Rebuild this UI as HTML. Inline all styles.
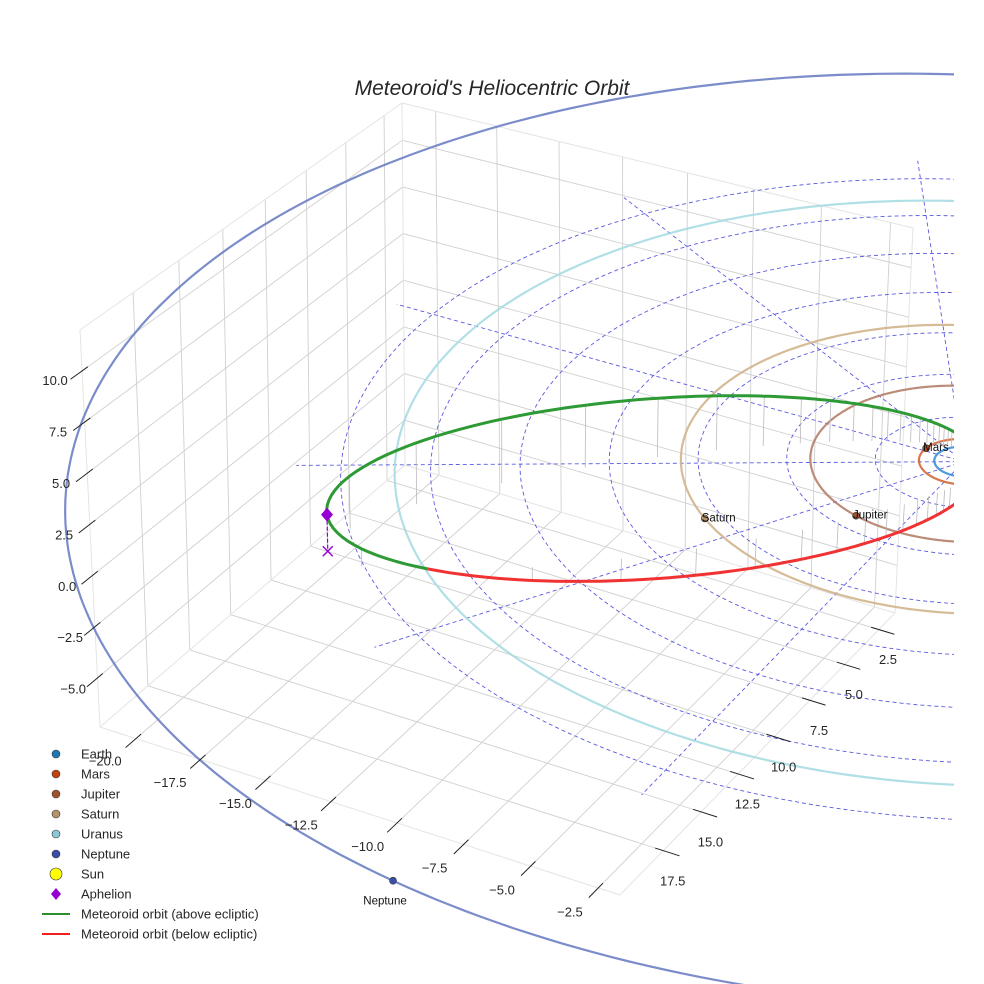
<!DOCTYPE html>
<html><head><meta charset="utf-8">
<style>
html,body{margin:0;padding:0;background:#fff;}
svg{display:block;font-family:"Liberation Sans",sans-serif;}
</style></head>
<body>
<svg id="chart" width="984" height="984" viewBox="0 0 984 984" xmlns="http://www.w3.org/2000/svg">
<defs><clipPath id="clip"><rect x="0" y="0" width="954" height="984"/></clipPath></defs>
<g id="panes"></g>
<g id="scene" clip-path="url(#clip)"></g>
<text x="492" y="95" text-anchor="middle" font-size="21" font-style="italic" fill="#262626">Meteoroid's Heliocentric Orbit</text>
<g id="ticks"></g>
<g id="legend"></g>
</svg>
<script>
// ---- data ----
const xTicks = [-20, -17.5, -15, -12.5, -10, -7.5, -5, -2.5];
const yTicks = [2.5, 5, 7.5, 10, 12.5, 15, 17.5];
const zTicks = [-5, -2.5, 0, 2.5, 5, 7.5, 10];
const xTickLabels = ["−20.0","−17.5","−15.0","−12.5","−10.0","−7.5","−5.0","−2.5"];
const yTickLabels = ["2.5","5.0","7.5","10.0","12.5","15.0","17.5"];
const zTickLabels = ["−5.0","−2.5","0.0","2.5","5.0","7.5","10.0"];
const planetNames = ["Earth","Mars","Jupiter","Saturn","Uranus","Neptune"];
const planetRadii = [1.0, 1.52, 5.2, 9.58, 19.2, 30.07];
const planetAnglesDeg = [20, 187, 108, 128, 60, 98];
const planetLabelShown = [false, true, true, true, false, true];
const ringRadii = [3, 6, 9, 12, 15, 18, 21];
const spokeAnglesDeg = [0, 30, 60, 90, 120, 150, 180, 210, 240, 270, 300, 330];
const meteorElements = [11.3, 0.945, 36, 129, 188]; // a, e, i, Omega, omega
const axisLimits = [-21.4, -1.7, 1.3, 20.3, -7.4, 12.0];

// ---- projection ----
const [x0,x1,y0,y1,z0,z1] = axisLimits;
function solve(A,b){const n=b.length;for(let i=0;i<n;i++){let m=i;for(let r=i+1;r<n;r++)if(Math.abs(A[r][i])>Math.abs(A[m][i]))m=r;[A[i],A[m]]=[A[m],A[i]];[b[i],b[m]]=[b[m],b[i]];for(let r=i+1;r<n;r++){const f=A[r][i]/A[i][i];for(let c=i;c<n;c++)A[r][c]-=f*A[i][c];b[r]-=f*b[i];}}const x=new Array(n);for(let i=n-1;i>=0;i--){let s=b[i];for(let c=i+1;c<n;c++)s-=A[i][c]*x[c];x[i]=s/A[i][i];}return x;}
function homog(src,dst){const A=[],b=[];for(let i=0;i<4;i++){const [X,Y]=src[i],[u,v]=dst[i];A.push([X,Y,1,0,0,0,-u*X,-u*Y]);b.push(u);A.push([0,0,0,X,Y,1,-v*X,-v*Y]);b.push(v);}return solve(A,b);}
const src=[[x0,y0],[x1,y0],[x1,y1],[x0,y1]];
const Hf=homog(src,[[405,465],[895,613],[620,895],[100,727]]);
const Ht=homog(src,[[402,103],[913,228],[640,497],[80,330]]);
function ap(h,X,Y){const w=h[6]*X+h[7]*Y+1;return [(h[0]*X+h[1]*Y+h[2])/w,(h[3]*X+h[4]*Y+h[5])/w];}
function P(x,y,z){const a=ap(Hf,x,y),b=ap(Ht,x,y),t=(z-z0)/(z1-z0);return [a[0]+(b[0]-a[0])*t,a[1]+(b[1]-a[1])*t];}
const NS="http://www.w3.org/2000/svg";
function mk(tag,attrs,parent){const e=document.createElementNS(NS,tag);for(const k in attrs)e.setAttribute(k,attrs[k]);parent.appendChild(e);return e;}
function pts(arr){return arr.map(p=>p[0].toFixed(1)+","+p[1].toFixed(1)).join(" ");}
function line3(a,b,attrs,parent){const p=P(...a),q=P(...b);return mk('line',Object.assign({x1:p[0],y1:p[1],x2:q[0],y2:q[1]},attrs),parent);}

// ---- panes & grid ----
const panes=document.getElementById('panes');
const g0={stroke:'#d0d0d0','stroke-width':0.9};
yTicks.forEach(t=>{let l=line3([x0,t,z0],[x0,t,z1],g0,panes);
 l=line3([x0,t,z0],[x1,t,z0],g0,panes);});
xTicks.forEach(t=>{let l=line3([t,y0,z0],[t,y0,z1],g0,panes);
 l=line3([t,y0,z0],[t,y1,z0],g0,panes);});
zTicks.forEach(t=>{let l=line3([x0,y0,t],[x0,y1,t],g0,panes);
 l=line3([x0,y0,t],[x1,y0,t],g0,panes);});
const e0={stroke:'#e4e4e4','stroke-width':1};
[[[x0,y0,z0],[x0,y0,z1]],[[x0,y1,z0],[x0,y1,z1]],[[x1,y0,z0],[x1,y0,z1]],[[x0,y0,z1],[x0,y1,z1]],[[x0,y0,z1],[x1,y0,z1]],[[x0,y1,z0],[x1,y1,z0]],[[x1,y0,z0],[x1,y1,z0]],[[x0,y0,z0],[x0,y1,z0]],[[x0,y0,z0],[x1,y0,z0]]].forEach(s=>{const l=line3(s[0],s[1],e0,panes);});

// ---- scene ----
const scene=document.getElementById('scene');
const D2R=Math.PI/180;
ringRadii.forEach(r=>{const a=[];for(let k=0;k<=360;k+=2)a.push(P(r*Math.cos(k*D2R),r*Math.sin(k*D2R),0));
 const e=mk('polyline',{points:pts(a),fill:'none',stroke:'#5a5ae0','stroke-width':0.9,'stroke-dasharray':'4,3'},scene);
 });
const spokeR=22.5;
spokeAnglesDeg.forEach(d=>{const l=line3([0,0,0],[spokeR*Math.cos(d*D2R),spokeR*Math.sin(d*D2R),0],{stroke:'#5a5ae0','stroke-width':0.9,'stroke-dasharray':'4,3'},scene);
 });
const orbitColors=['#3b8fd6','#d2693c','#b5806a','#d2b48c','#a8dbe3','#6d80c4'];
const dotColors=['#1f77b4','#c1440e','#a0522d','#b8926a','#8cc8d8','#3a50a8'];
planetRadii.forEach((r,i)=>{const a=[];for(let k=0;k<=360;k+=1)a.push(P(r*Math.cos(k*D2R),r*Math.sin(k*D2R),0));
 const e=mk('polyline',{points:pts(a),fill:'none',stroke:orbitColors[i],'stroke-width':2.2,'stroke-opacity':0.9},scene);
 });
// meteoroid orbit
const [ma,me,mi,mO,mw]=meteorElements;
const morb=[];
for(let k=0;k<=720;k++){const nu=k*0.5*D2R;const r=ma*(1-me*me)/(1+me*Math.cos(nu));const u=mw*D2R+nu,O=mO*D2R,I=mi*D2R;
 morb.push([r*(Math.cos(O)*Math.cos(u)-Math.sin(O)*Math.sin(u)*Math.cos(I)),r*(Math.sin(O)*Math.cos(u)+Math.cos(O)*Math.sin(u)*Math.cos(I)),r*Math.sin(u)*Math.sin(I)]);}
morb.forEach((p,k)=>{if(k%8===0&&Math.abs(p[2])>0.15){const l=line3(p,[p[0],p[1],0],{stroke:'#bbbbbb','stroke-width':0.8},scene);}});
let seg=[],above=morb[0][2]>=0;
function flush(ab){if(seg.length>1){const e=mk('polyline',{points:pts(seg),fill:'none',stroke:ab?'#2e9a35':'#f03232','stroke-width':3,'stroke-linejoin':'round'},scene);
 }}
morb.forEach(p=>{const ab=p[2]>=0;const s=P(...p);if(ab!==above){seg.push(s);flush(above);seg=[s];above=ab;}else seg.push(s);});flush(above);
// aphelion
const aph=morb[360];const pa=P(...aph),pb=P(aph[0],aph[1],0);
let el=mk('line',{x1:pa[0],y1:pa[1],x2:pb[0],y2:pb[1],stroke:'#9400d3','stroke-width':1.2,'stroke-dasharray':'4,2'},scene);

el=mk('path',{d:`M${pb[0]-5},${pb[1]-5}L${pb[0]+5},${pb[1]+5}M${pb[0]-5},${pb[1]+5}L${pb[0]+5},${pb[1]-5}`,stroke:'#9400d3','stroke-width':1.4},scene);

el=mk('path',{d:`M${pa[0]},${pa[1]-7}L${pa[0]+6},${pa[1]}L${pa[0]},${pa[1]+7}L${pa[0]-6},${pa[1]}Z`,fill:'#9400d3'},scene);

// planets
planetRadii.forEach((r,i)=>{const d=planetAnglesDeg[i]*D2R;const p=P(r*Math.cos(d),r*Math.sin(d),0);
 const c=mk('circle',{cx:p[0],cy:p[1],r:3.5,fill:dotColors[i],stroke:'#333','stroke-width':0.6},scene);
 
 if(planetLabelShown[i]){const nep=planetNames[i]==='Neptune';
  const t=mk('text',{x:nep?p[0]-8:p[0]-3,y:nep?p[1]+24:p[1]+3,'font-size':11.5,fill:'#111','text-anchor':nep?'middle':'start'},scene);t.textContent=planetNames[i];
  }});
const sp=P(0,0,0);el=mk('circle',{cx:sp[0],cy:sp[1],r:6,fill:'#ffff00',stroke:'#333','stroke-width':0.8},scene);


// ---- ticks ----
const tk=document.getElementById('ticks');
const tstyle={stroke:'#222','stroke-width':1};
xTicks.forEach((t,i)=>{const l=line3([t,y1-0.3,z0],[t,y1+0.6,z0],tstyle,tk);
 const p=P(t,y1+1.6,z0);const e=mk('text',{x:p[0]-3,y:p[1]+3,'font-size':13,fill:'#262626','text-anchor':'middle'},tk);e.textContent=xTickLabels[i];
 });
yTicks.forEach((t,i)=>{const l=line3([x1-0.3,t,z0],[x1+0.6,t,z0],tstyle,tk);
 const p=P(x1+0.2,t,z0);const e=mk('text',{x:p[0]+4,y:p[1]+33,'font-size':13,fill:'#262626','text-anchor':'middle'},tk);e.textContent=yTickLabels[i];
 });
zTicks.forEach((t,i)=>{const l=line3([x0,y1-0.3,t],[x0,y1+0.6,t],tstyle,tk);
 const p=P(x0,y1+1.6,t);const e=mk('text',{x:p[0]+4,y:p[1]-8,'font-size':13,fill:'#262626','text-anchor':'middle'},tk);e.textContent=zTickLabels[i];
 });

// ---- legend ----
const lg=document.getElementById('legend');
const legendLabels=["Earth","Mars","Jupiter","Saturn","Uranus","Neptune","Sun","Aphelion","Meteoroid orbit (above ecliptic)","Meteoroid orbit (below ecliptic)"];
const legendColors=['#1f77b4','#c1440e','#a0522d','#b8926a','#8cc8d8','#3a50a8','#ffff00','#9400d3','#2e8b2e','#f02020'];
legendLabels.forEach((s,i)=>{const y=754+i*20;let m;
 if(i<7)m=mk('circle',{cx:56,cy:y,r:i===6?6:4,fill:legendColors[i],stroke:'#333','stroke-width':0.6},lg);
 else if(i===7)m=mk('path',{d:`M56,${y-6}L61,${y}L56,${y+6}L51,${y}Z`,fill:legendColors[i]},lg);
 else m=mk('line',{x1:42,y1:y,x2:70,y2:y,stroke:legendColors[i],'stroke-width':2},lg);
 
 const t=mk('text',{x:81,y:y+4.5,'font-size':13,fill:'#262626'},lg);t.textContent=s;
 });
</script>
</body></html>
